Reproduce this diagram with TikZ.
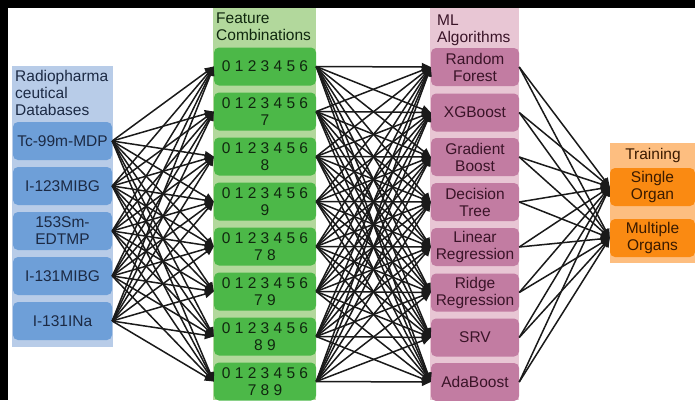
\documentclass[tikz,border=0pt]{standalone}
\usepackage{fontspec}
\setmainfont{Liberation Sans}
\usetikzlibrary{arrows.meta}
\definecolor{dbback}{HTML}{B8CCE8}
\definecolor{dbbox}{HTML}{6E9FD8}
\definecolor{dbtext}{HTML}{1C2A44}
\definecolor{fcback}{HTML}{B2D89C}
\definecolor{fcbox}{HTML}{4CB848}
\definecolor{fctext}{HTML}{10280F}
\definecolor{mlback}{HTML}{E8C6D4}
\definecolor{mlbox}{HTML}{C27CA2}
\definecolor{mltext}{HTML}{3A1428}
\definecolor{trback}{HTML}{FDBE80}
\definecolor{trbox}{HTML}{FA8A12}
\definecolor{trtext}{HTML}{3A1A00}
\definecolor{edgecol}{HTML}{1A1A1A}
\tikzset{
  txt/.style={font=\fontsize{15.5}{17}\selectfont},
  box/.style={txt, rounded corners=5pt, minimum height=38pt, inner sep=1pt, align=center},
  dbnode/.style={box, fill=dbbox, text=dbtext, minimum width=99pt},
  fcnode/.style={box, fill=fcbox, text=fctext, minimum width=102pt},
  mlnode/.style={box, fill=mlbox, text=mltext, minimum width=88pt},
  trnode/.style={box, fill=trbox, text=trtext, minimum width=85pt},
  heading/.style={txt, inner sep=0pt, align=left, anchor=north west}
}
\begin{document}
\begin{tikzpicture}[x=1pt,y=-1pt]
      \useasboundingbox (0,0) rectangle (695,400);
      \fill[white] (0,0) rectangle (695,400);
      \fill[dbback] (12,66) rectangle (113,347);
      \fill[fcback] (213,8) rectangle (316,400);
      \fill[mlback] (430,8) rectangle (519,400);
      \fill[trback] (610,143) rectangle (695,263);
      \fill[black] (0,0) rectangle (695,8);
      \fill[black] (0,0) rectangle (8,400);
      \node[heading, text=dbtext] (dbhead) at (15,70) {Radiopharma\\ceutical\\Databases};
      \node[heading, text=fctext] (fchead) at (216,13) {Feature\\Combinations};
      \node[heading, text=mltext] (mlhead) at (437,15) {ML\\Algorithms};
      \node[txt, text=trtext] (trhead) at (653,155) {Training};
      \draw
        (62.5,141) node[dbnode] (d1){Tc-99m-MDP}
        (62.5,186) node[dbnode] (d2){I-123MIBG}
        (62.5,231) node[dbnode] (d3){153Sm-\\EDTMP}
        (62.5,276) node[dbnode] (d4){I-131MIBG}
        (62.5,321) node[dbnode] (d5){I-131INa};
      \draw
        (265,66.5) node[fcnode] (f1){0 1 2 3 4 5 6}
        (265,111.5) node[fcnode] (f2){0 1 2 3 4 5 6\\7}
        (265,156.5) node[fcnode] (f3){0 1 2 3 4 5 6\\8}
        (265,201.5) node[fcnode] (f4){0 1 2 3 4 5 6\\9}
        (265,246.5) node[fcnode] (f5){0 1 2 3 4 5 6\\7 8}
        (265,291.5) node[fcnode] (f6){0 1 2 3 4 5 6\\7 9}
        (265,336.5) node[fcnode] (f7){0 1 2 3 4 5 6\\8 9}
        (265,381.5) node[fcnode] (f8){0 1 2 3 4 5 6\\7 8 9};
      \draw
        (475,67) node[mlnode] (m1){Random\\Forest}
        (475,112.5) node[mlnode] (m2){XGBoost}
        (475,157) node[mlnode] (m3){Gradient\\Boost}
        (475,202) node[mlnode] (m4){Decision\\Tree}
        (475,247) node[mlnode] (m5){Linear\\Regression}
        (475,292.5) node[mlnode] (m6){Ridge\\Regression}
        (475,337.5) node[mlnode] (m7){SRV}
        (475,382) node[mlnode] (m8){AdaBoost};
      \draw
        (652.5,187) node[trnode] (t1){Single\\Organ}
        (652.5,238) node[trnode] (t2){Multiple\\Organs};
      \begin{scope}[-{Triangle[length=9pt,width=8pt]}, draw=edgecol, line width=1.5pt]
        \foreach \i in {1,...,5}
          \foreach \j in {1,...,8}
            \draw (d\i.east) -- (f\j.west);
        \foreach \i in {1,...,8}
          \foreach \j in {1,...,8}
            \draw (f\i.east) -- (m\j.west);
        \foreach \i in {1,...,8}
          \foreach \j in {1,2}
            \draw (m\i.east) -- (t\j.west);
      \end{scope}
    \end{tikzpicture}
\end{document}
